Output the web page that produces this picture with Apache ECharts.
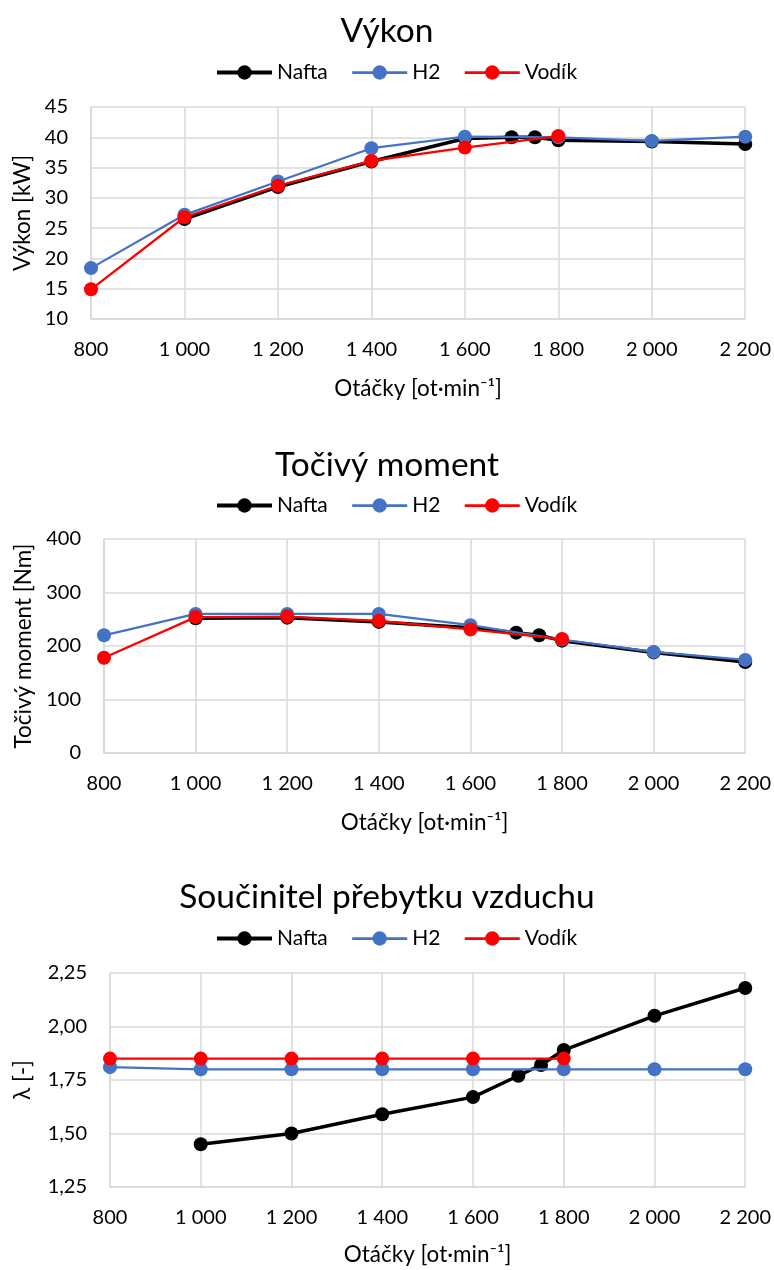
<!DOCTYPE html>
<html><head><meta charset="utf-8">
<script src="https://cdn.jsdelivr.net/npm/echarts@6/dist/echarts.min.js"></script>
<style>html,body{margin:0;padding:0;background:#fff}#c{width:774px;height:1270px}</style>
</head><body><div id="c"></div>
<script>
// Data
const seriesNames = ['Nafta', 'H2', 'Vodík'];
const naftaRpm = [1000, 1200, 1400, 1600, 1700, 1750, 1800, 2000, 2200];
const h2Rpm = [800, 1000, 1200, 1400, 1600, 1800, 2000, 2200];
const vodikRpm = [800, 1000, 1200, 1400, 1600, 1800];

const naftaPower = [26.5, 31.8, 36.0, 39.8, 40.0, 40.0, 39.5, 39.3, 38.9];
const h2Power = [18.4, 27.2, 32.7, 38.2, 40.1, 40.0, 39.4, 40.1];
const vodikPower = [14.9, 26.8, 32.0, 36.1, 38.3, 40.2];

const naftaTorque = [252, 253, 245, 234, 225, 220, 210, 188, 170];
const h2Torque = [220, 260, 260, 260, 239, 212, 189, 174];
const vodikTorque = [178, 254, 255, 247, 231, 213];

const naftaLambda = [1.45, 1.50, 1.59, 1.67, 1.77, 1.82, 1.89, 2.05, 2.18];
const h2Lambda = [1.81, 1.80, 1.80, 1.80, 1.80, 1.80, 1.80, 1.80];
const vodikLambda = [1.85, 1.85, 1.85, 1.85, 1.85, 1.85];

const titles = ['Výkon', 'Točivý moment', 'Součinitel přebytku vzduchu'];
const yNames = ['Výkon [kW]', 'Točivý moment [Nm]', 'λ [-]'];
const xName = 'Otáčky [ot·min⁻¹]';

const FONT = 'Lato, "Open Sans", sans-serif';
const colors = ['#000000', '#4472C4', '#FF0000'];
const lineWidths = [3.5, 2.25, 2.25];

const grids = [
  {left: 91, right: 28, top: 107, height: 212},
  {left: 104, right: 28, top: 539, height: 214},
  {left: 110, right: 28, top: 973, height: 214}
];
const yCfg = [
  {min: 10, max: 45, interval: 5, fmt: v => String(v), gap: 50},
  {min: 0, max: 400, interval: 100, fmt: v => String(v), gap: 65},
  {min: 1.25, max: 2.25, interval: 0.25, fmt: v => v.toFixed(2).replace('.', ','), gap: 76}
];
const xGaps = [58, 58, 56];
const titleTops = [9, 443, 875];
const legendTops = [57, 490, 923];

function fmtX(v) { return String(v).replace(/\B(?=(\d{3})+(?!\d))/g, ' '); }
function pairs(xs, ys) { return xs.map((x, i) => [x, ys[i]]); }

const dataSets = [
  [pairs(naftaRpm, naftaPower), pairs(h2Rpm, h2Power), pairs(vodikRpm, vodikPower)],
  [pairs(naftaRpm, naftaTorque), pairs(h2Rpm, h2Torque), pairs(vodikRpm, vodikTorque)],
  [pairs(naftaRpm, naftaLambda), pairs(h2Rpm, h2Lambda), pairs(vodikRpm, vodikLambda)]
];

const gridLine = {lineStyle: {color: '#D9D9D9', width: 1.5}};
const option = {
  animation: false,
  backgroundColor: '#fff',
  title: titles.map((t, i) => ({
    text: t, left: 'center', top: titleTops[i],
    textStyle: {fontFamily: FONT, fontSize: 33.5, fontWeight: 'normal', color: '#000'}
  })),
  legend: [0, 1, 2].map(i => ({
    data: seriesNames.map((n, k) => ({
      name: n + '\u200b'.repeat(i),
      lineStyle: {color: colors[k], width: lineWidths[k] + 0.5}
    })),
    top: legendTops[i], left: 210,
    itemWidth: 55, itemHeight: 18, itemGap: 23,
    textStyle: {fontFamily: FONT, fontSize: 21, color: '#000'}
  })),
  grid: grids.map(g => Object.assign({containLabel: false}, g)),
  xAxis: [0, 1, 2].map(i => ({
    gridIndex: i, type: 'value', min: 800, max: 2200, interval: 200,
    name: xName, nameLocation: 'middle', nameGap: xGaps[i],
    nameTextStyle: {fontFamily: FONT, fontSize: 22.5, color: '#000'},
    axisLine: {show: true, lineStyle: {color: '#D9D9D9', width: 1.5}},
    axisTick: {show: false},
    splitLine: Object.assign({show: true}, gridLine),
    axisLabel: {formatter: fmtX, margin: 21, fontFamily: FONT, fontSize: 20, color: '#000'}
  })),
  yAxis: [0, 1, 2].map(i => ({
    gridIndex: i, type: 'value', min: yCfg[i].min, max: yCfg[i].max, interval: yCfg[i].interval,
    name: yNames[i], nameLocation: 'middle', nameGap: yCfg[i].gap, nameRotate: 90,
    nameTextStyle: {fontFamily: FONT, fontSize: 22.5, color: '#000'},
    axisLine: {show: true, lineStyle: {color: '#D9D9D9', width: 1.5}},
    axisTick: {show: false},
    splitLine: Object.assign({show: true}, gridLine),
    axisLabel: {formatter: yCfg[i].fmt, margin: 23, fontFamily: FONT, fontSize: 20, color: '#000'}
  })),
  series: []
};
for (let i = 0; i < 3; i++) {
  for (let k = 0; k < 3; k++) {
    option.series.push({
      name: seriesNames[k] + '\u200b'.repeat(i),
      type: 'line', xAxisIndex: i, yAxisIndex: i,
      data: dataSets[i][k],
      symbol: 'circle', symbolSize: 14, showSymbol: true,
      lineStyle: {color: colors[k], width: lineWidths[k]},
      itemStyle: {color: colors[k]},
      z: 2 + k
    });
  }
}
const chart = echarts.init(document.getElementById('c'), null, {renderer: 'canvas'});
chart.setOption(option);
</script></body></html>
